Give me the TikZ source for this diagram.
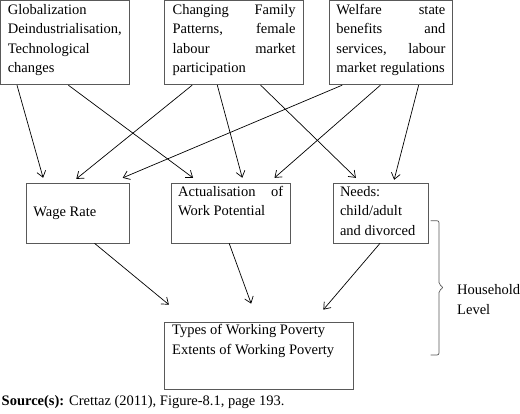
\documentclass[tikz,border=0pt]{standalone}
\usepackage{fontspec}
\setmainfont{Liberation Serif}
\usetikzlibrary{positioning,calc,arrows.meta}
\tikzset{dbox/.style={draw=black!65, line width=0.8pt, align=flush left, inner xsep=7pt, inner ysep=3.3pt, text height=10pt, font=\fontsize{14.5}{19.5}\selectfont}}
\tikzset{arr/.style={draw, -{Straight Barb[length=6pt,width=9pt]}, line width=0.7pt}}
\tikzset{brace/.style={draw=black!65, line width=0.7pt, rounded corners=2pt}}
\tikzset{lbl/.style={align=left, inner sep=0pt, font=\fontsize{14.5}{20}\selectfont}}

\begin{document}
\begin{tikzpicture}[x=1pt,y=1pt]
	\useasboundingbox (0,0) rectangle (520,-413);
	% driving forces
	\node[dbox, anchor=north west, text width=115pt, text depth=67.4pt] (glob) at (0.4,-0.4)
		{Globalization\\ Deindustrialisation,\\ Technological\\ changes};
	\node[dbox, right=34pt of glob, inner xsep=8pt, text width=123pt, text depth=67.4pt] (fam)
		{Changing\hfill Family\\ Patterns,\hfill female\\ labour\hfill market\\ participation};
	\node[dbox, right=25pt of fam, text width=109pt, text depth=67.4pt] (wel)
		{Welfare\hfill state\\ benefits\hfill and\\ services,\hfill labour\\ market regulations};
	% household factors
	\node[dbox, below right=97.3pt and 25.3pt of glob.south west, inner xsep=7.3pt, text width=88.7pt,
		minimum height=60pt, text depth=3pt] (wage) {Wage Rate};
	\node[dbox, right=41pt of wage, text width=105pt, text depth=43.4pt] (act)
		{Actualisation\hfill of\\ Work Potential};
	\node[dbox, right=42pt of act, text width=81pt, text depth=43.4pt] (needs)
		{Needs:\\ child/adult\\ and divorced};
	% outcome
	\node[dbox, below right=78.3pt and 34pt of wage.south east, inner xsep=8pt, inner ysep=2.3pt,
		text width=173pt, text depth=52.4pt, font=\fontsize{14.5}{20}\selectfont] (bot)
		{Types of Working Poverty\\ Extents of Working Poverty};
	%
	\draw[arr, shorten >=4.9pt] ($(glob.south west)!.128!(glob.south east)$) -- ($(wage.north west)!.18!(wage.north east)$);
	\draw[arr, shorten >=7.8pt] ($(glob.south west)!.524!(glob.south east)$) -- ($(act.north west)!.238!(act.north east)$);
	\draw[arr, shorten >=5.8pt] ($(fam.south west)!.2!(fam.south east)$) -- ($(wage.north west)!.443!(wage.north east)$);
	\draw[arr, shorten >=4.9pt] ($(fam.south west)!.38!(fam.south east)$) -- ($(act.north west)!.607!(act.north east)$);
	\draw[arr, shorten >=6.7pt] ($(fam.south west)!.69!(fam.south east)$) -- ($(needs.north west)!.293!(needs.north east)$);
	\draw[arr, shorten >=12pt] ($(wel.south west)!.106!(wel.south east)$) -- ($(wage.north west)!.826!(wage.north east)$);
	\draw[arr, shorten >=7.1pt] ($(wel.south west)!.415!(wel.south east)$) -- ($(act.north west)!.821!(act.north east)$);
	\draw[arr, shorten >=2.8pt] ($(wel.south west)!.724!(wel.south east)$) -- ($(needs.north west)!.635!(needs.north east)$);
	%
	\draw[arr, shorten >=26.6pt] ($(wage.south west)!.661!(wage.south east)$) -- ($(bot.north west)!.135!(bot.north east)$);
	\draw[arr, shorten >=19.1pt] ($(act.south west)!.487!(act.south east)$) -- ($(bot.north west)!.495!(bot.north east)$);
	\draw[arr, shorten >=15.7pt] ($(needs.south west)!.495!(needs.south east)$) -- ($(bot.north west)!.787!(bot.north east)$);
	% household level brace
	\coordinate (brtop) at (430.7,-220.7);
	\coordinate (brbot) at (430.7,-355);
	\coordinate (cusp) at (443.5,-287.5);
	\draw[brace] (brtop) -- (439,-220.7) -- (439,-284.5) -- (cusp) -- (439,-290.5) -- (439,-355) -- (brbot);
	\node[lbl, anchor=west] (hh) at ($(cusp)+(13.5pt,-12.3pt)$) {Household\\ Level};
	%
	\node[anchor=base west, inner sep=0pt, font=\fontsize{14.5}{17}\selectfont] (src) at (1.5,-405.5)
		{\textbf{Source(s):} Crettaz (2011), Figure-8.1, page 193.};
\end{tikzpicture}
\end{document}
